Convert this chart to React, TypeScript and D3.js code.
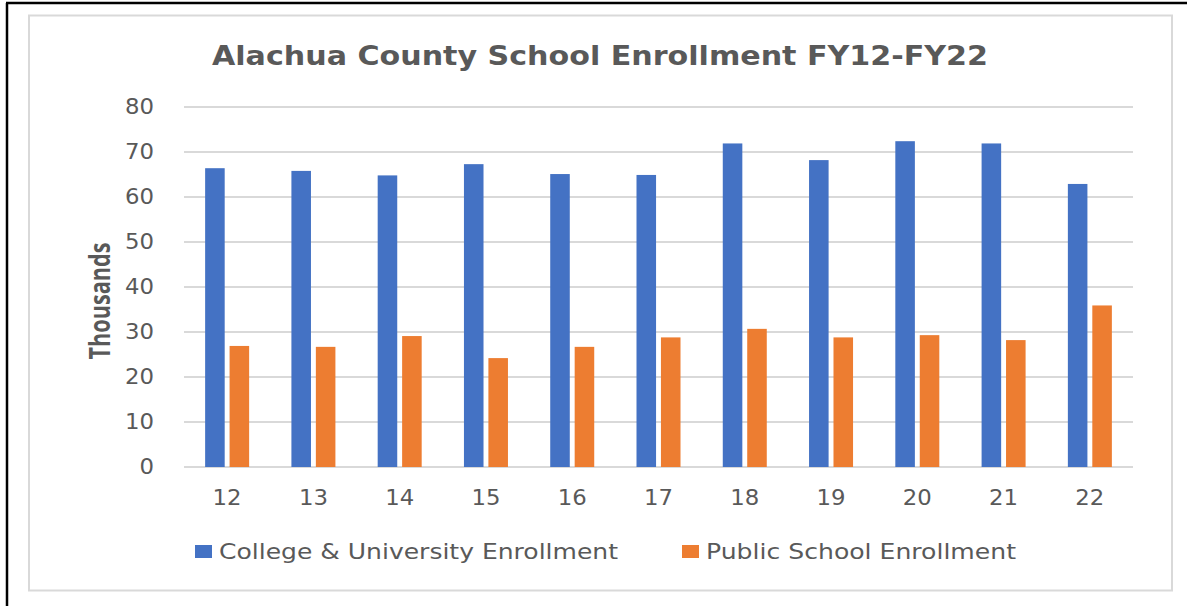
import React from 'react'
import * as d3 from 'd3'

// fiscal years (FY12..FY22), values in thousands
const years = ['12', '13', '14', '15', '16', '17', '18', '19', '20', '21', '22']
const collegeEnrollment = [66.4, 65.8, 64.8, 67.3, 65.1, 64.9, 71.9, 68.2, 72.4, 71.9, 62.9]
const publicEnrollment = [26.9, 26.7, 29.1, 24.2, 26.7, 28.8, 30.7, 28.8, 29.3, 28.2, 35.9]
const seriesNames = ['College & University Enrollment', 'Public School Enrollment']
const yTicks = [0, 10, 20, 30, 40, 50, 60, 70, 80]

const colors = ['#4472C4', '#ED7D31']
const textColor = '#595959'
const font = '"DejaVu Sans", "Open Sans", sans-serif'

const App = () => {
  const full_width = 1187
  const full_height = 606
  const margin = { top: 107, right: 54, bottom: 139, left: 184 }
  const height = full_height - margin.top - margin.bottom // 360
  const width = full_width - margin.left - margin.right

  const x = d3.scaleBand().domain(years).range([0, width]).paddingInner(0.49).paddingOuter(0.245)
  const xInner = d3.scaleBand().domain(['0', '1']).range([0, x.bandwidth()]).paddingInner(0.2)
  const y = d3.scaleLinear().domain([0, 80]).range([height, 0])

  const series = [collegeEnrollment, publicEnrollment]
  // label widths (the source text is stretched wide)
  const numW = (s: string) => s.length * 14.5
  const legendX = [195, 682]
  const legendW = [399, 310]

  return (
    <svg width={full_width} height={full_height} style={{ position: 'absolute', left: 0, top: 0 }} fontFamily={font}>
      <rect x={0} y={0} width={full_width} height={full_height} fill="#fff" />
      {/* outer frame (left + top only) */}
      <line x1={7} y1={3} x2={7} y2={full_height} stroke="#000" strokeWidth={2.5} />
      <line x1={6} y1={3} x2={full_width} y2={3} stroke="#000" strokeWidth={2.5} />
      {/* chart area border */}
      <rect x={29} y={15.5} width={1143} height={575} fill="#fff" stroke="#d9d9d9" strokeWidth={2} />

      <text x={212} y={65} fontSize={27} fontWeight="bold" fill={textColor}
        textLength={776} lengthAdjust="spacingAndGlyphs">
        Alachua County School Enrollment FY12-FY22
      </text>

      <text transform={`translate(110,301) rotate(-90)`} textAnchor="middle" fontSize={28} fontWeight="bold"
        fill={textColor} textLength={117} lengthAdjust="spacingAndGlyphs" fontFamily='"Open Sans", sans-serif'>
        Thousands
      </text>

      <g transform={`translate(${margin.left},${margin.top})`}>
        {yTicks.map(t => (
          <g key={t}>
            <line x1={0} x2={width} y1={y(t)} y2={y(t)} stroke="#d9d9d9" strokeWidth={2} />
            <text x={-30 - numW(String(t))} y={y(t)} dy="0.36em" fontSize={20.5} fill={textColor}
              textLength={numW(String(t))} lengthAdjust="spacingAndGlyphs">{t}</text>
          </g>
        ))}
        {years.map((yr, i) => (
          <g key={yr} transform={`translate(${x(yr)},0)`}>
            {series.map((s, j) => (
              <rect key={j} x={xInner(String(j))} y={y(s[i])} width={xInner.bandwidth()}
                height={height - y(s[i])} fill={colors[j]} />
            ))}
            <text x={x.bandwidth() / 2 - numW(yr) / 2} y={height + 38} fontSize={20.5} fill={textColor}
              textLength={numW(yr)} lengthAdjust="spacingAndGlyphs">{yr}</text>
          </g>
        ))}
      </g>

      {/* legend */}
      {seriesNames.map((name, j) => (
        <g key={name} transform={`translate(${legendX[j]},545)`}>
          <rect x={0} y={0} width={17} height={13} fill={colors[j]} />
          <text x={24} y={13.5} fontSize={21.5} fill={textColor}
            textLength={legendW[j]} lengthAdjust="spacingAndGlyphs">{name}</text>
        </g>
      ))}
    </svg>
  )
}

export default App
